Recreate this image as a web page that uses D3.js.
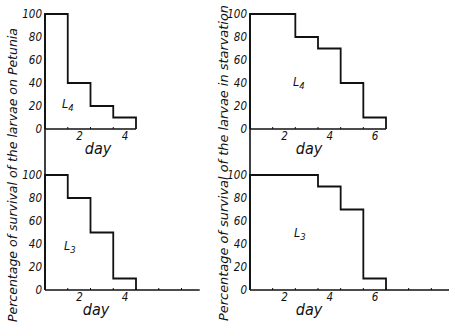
<!DOCTYPE html>
<html>
<head>
<meta charset="utf-8">
<script src="https://cdn.jsdelivr.net/npm/d3@7"></script>
<style>
  body { margin: 0; background: #fff; }
  text { font-family: "DejaVu Sans Condensed", "Liberation Sans Narrow", sans-serif; font-style: italic; fill: #111; }
</style>
</head>
<body>
<svg id="chart" width="449" height="324"></svg>
<script>
// step edges (day) and survival (%) for each panel
const petuniaL4Days = [0.5, 1.5, 2.5, 3.5, 4.5];
const petuniaL4Vals = [100, 40, 20, 10];
const petuniaL3Days = [0.5, 1.5, 2.5, 3.5, 4.5];
const petuniaL3Vals = [100, 80, 50, 10];
const starvL4Days = [0.5, 2.5, 3.5, 4.5, 5.5, 6.5];
const starvL4Vals = [100, 80, 70, 40, 10];
const starvL3Days = [0.5, 3.5, 4.5, 5.5, 6.5];
const starvL3Vals = [100, 90, 70, 10];
const yTicks = [0, 20, 40, 60, 80, 100];
const leftDayTicks = [2, 4];
const rightDayTicks = [2, 4, 6];

const svg = d3.select("#chart");

const panels = [
  {days: petuniaL4Days, vals: petuniaL4Vals, label: "4", xr: [45, 136], xd: [0.5, 4.5], axisEnd: 4.5, yr: [129, 14], xt: leftDayTicks, lab: [62, 108], dayPos: [98, 154]},
  {days: petuniaL3Days, vals: petuniaL3Vals, label: "3", xr: [45, 136], xd: [0.5, 4.5], axisEnd: 7.3, yr: [290, 175], xt: leftDayTicks, lab: [64, 250], dayPos: [96, 315]},
  {days: starvL4Days, vals: starvL4Vals, label: "4", xr: [250, 386], xd: [0.5, 6.5], axisEnd: 6.5, yr: [129, 14], xt: rightDayTicks, lab: [293, 86], dayPos: [309, 154]},
  {days: starvL3Days, vals: starvL3Vals, label: "3", xr: [250, 386], xd: [0.5, 6.5], axisEnd: 9.4, yr: [290, 175], xt: rightDayTicks, lab: [294, 237], dayPos: [309, 315]}
];

panels.forEach(p => {
  const x = d3.scaleLinear().domain(p.xd).range(p.xr);
  const y = d3.scaleLinear().domain([0, 100]).range(p.yr);
  const g = svg.append("g");

  // y tick labels
  const ya = g.append("g")
    .attr("transform", "translate(" + x(0.5) + ",0)")
    .call(d3.axisLeft(y).tickValues(yTicks).tickSize(0).tickPadding(3));
  ya.select(".domain").remove();
  ya.selectAll("text").attr("font-size", 11.5).attr("font-family", null).style("fill", "#111");

  // x tick labels
  const xa = g.append("g")
    .attr("transform", "translate(0," + y(0) + ")")
    .call(d3.axisBottom(x).tickValues(p.xt).tickFormat(d3.format("d")).tickSize(0).tickPadding(3));
  xa.select(".domain").remove();
  xa.selectAll("text").attr("font-size", 11.5).attr("font-family", null).style("fill", "#111");

  // x axis baseline
  g.append("line")
    .attr("x1", x(0.5)).attr("x2", x(p.axisEnd))
    .attr("y1", y(0)).attr("y2", y(0))
    .attr("stroke", "#111").attr("stroke-width", 1.6);

  // small ticks on x axis
  g.selectAll(".xt").data(d3.range(1.5, p.axisEnd, 1))
    .enter().append("line")
    .attr("x1", d => x(d)).attr("x2", d => x(d))
    .attr("y1", y(0)).attr("y2", y(0) - 2)
    .attr("stroke", "#111").attr("stroke-width", 1);

  // step line
  const pts = [[p.days[0], 0]];
  p.vals.forEach((v, i) => {
    pts.push([p.days[i], v]);
    pts.push([p.days[i + 1], v]);
  });
  pts.push([p.days[p.days.length - 1], 0]);
  g.append("path")
    .attr("d", d3.line().x(d => x(d[0])).y(d => y(d[1]))(pts))
    .attr("fill", "none").attr("stroke", "#111").attr("stroke-width", 1.8);

  // larval stage label
  const t = g.append("text")
    .attr("x", p.lab[0]).attr("y", p.lab[1])
    .attr("font-size", 12.5);
  t.append("tspan").text("L");
  t.append("tspan").attr("font-size", 9.5).attr("dy", 3).text(p.label);

  // axis title
  g.append("text")
    .attr("x", p.dayPos[0]).attr("y", p.dayPos[1])
    .attr("text-anchor", "middle")
    .attr("font-size", 16)
    .text("day");
});

// continuous y axes
[45, 250].forEach(ax => {
  svg.append("line")
    .attr("x1", ax).attr("x2", ax).attr("y1", 14).attr("y2", 290)
    .attr("stroke", "#111").attr("stroke-width", 1.6);
});

// y titles
svg.append("text")
  .attr("transform", "translate(17,175) rotate(-90)")
  .attr("text-anchor", "middle")
  .attr("font-size", 12.5)
  .attr("textLength", 294).attr("lengthAdjust", "spacingAndGlyphs")
  .text("Percentage of survival of the larvae on Petunia");

svg.append("text")
  .attr("transform", "translate(228,163) rotate(-90)")
  .attr("text-anchor", "middle")
  .attr("font-size", 12.5)
  .attr("textLength", 316).attr("lengthAdjust", "spacingAndGlyphs")
  .text("Percentage of survival of the larvae in starvation");
</script>
</body>
</html>
